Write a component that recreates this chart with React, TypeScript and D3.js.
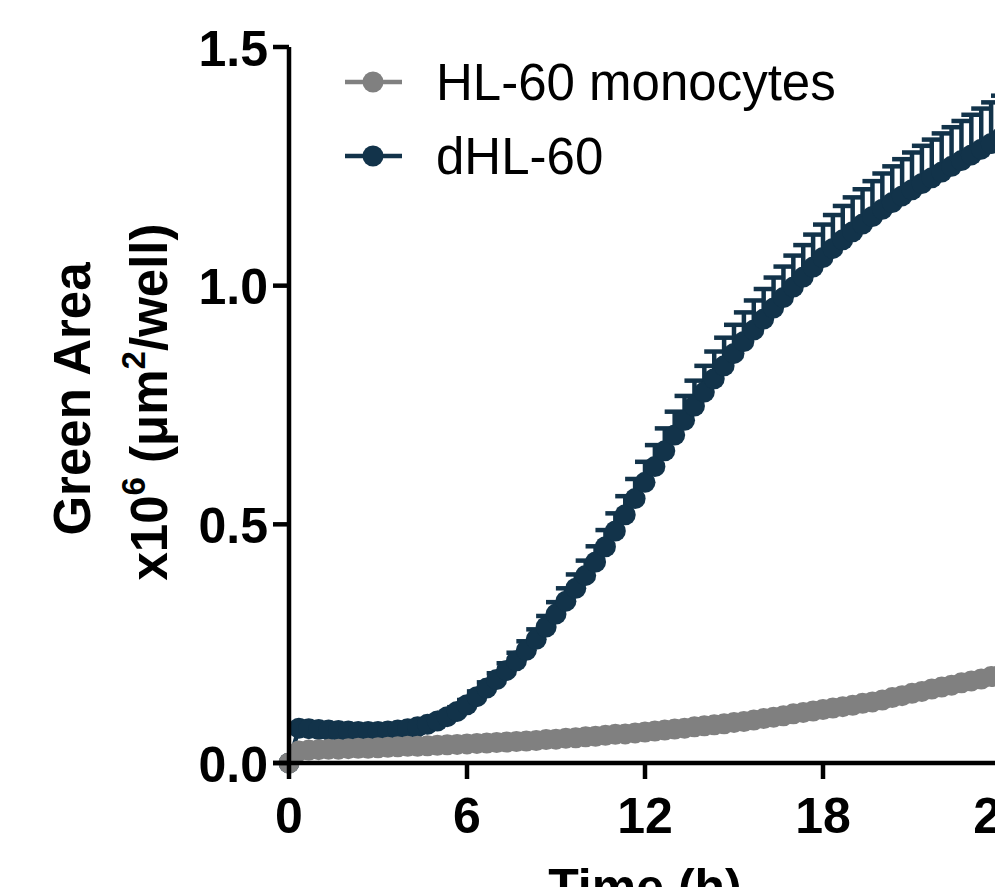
import React from "react";
import * as d3 from "d3";

// Scan times (minutes after start), one image every 20 min
const scanMinutes = [
  0, 20, 40, 60, 80, 100, 120, 140, 160, 180, 200, 220, 240, 260, 280, 300, 320, 340, 360, 380,
  400, 420, 440, 460, 480, 500, 520, 540, 560, 580, 600, 620, 640, 660, 680, 700, 720, 740, 760,
  780, 800, 820, 840, 860, 880, 900, 920, 940, 960, 980, 1000, 1020, 1040, 1060, 1080, 1100, 1120,
  1140, 1160, 1180, 1200, 1220, 1240, 1260, 1280, 1300, 1320, 1340, 1360, 1380, 1400, 1420, 1440,
];

// Green area x10^6 µm²/well
const hl60Monocytes = [
  0,
  0.025, 0.027, 0.028,
  0.029, 0.029, 0.030,
  0.031, 0.031, 0.032,
  0.033, 0.034, 0.035,
  0.035, 0.036, 0.037,
  0.038, 0.039, 0.040,
  0.041, 0.042, 0.043,
  0.044, 0.045, 0.046,
  0.047, 0.049, 0.050,
  0.052, 0.053, 0.055,
  0.056, 0.058, 0.060,
  0.061, 0.063, 0.065,
  0.067, 0.069, 0.071,
  0.073, 0.076, 0.078,
  0.080, 0.082, 0.085,
  0.087, 0.090, 0.093,
  0.096, 0.099, 0.103,
  0.106, 0.109, 0.112,
  0.115, 0.118, 0.121,
  0.125, 0.128, 0.132,
  0.137, 0.141, 0.146,
  0.150, 0.155, 0.159,
  0.163, 0.168, 0.172,
  0.176, 0.181, 0.185,
];

const dHL60 = [
  0,
  0.073, 0.072, 0.070,
  0.069, 0.068, 0.067,
  0.066, 0.066, 0.066,
  0.067, 0.069, 0.072,
  0.076, 0.081, 0.088,
  0.097, 0.108, 0.122,
  0.139, 0.157, 0.175,
  0.194, 0.214, 0.236,
  0.259, 0.285, 0.312,
  0.339, 0.366, 0.393,
  0.421, 0.453, 0.486,
  0.520, 0.554, 0.588,
  0.621, 0.654, 0.687,
  0.718, 0.748, 0.777,
  0.805, 0.832, 0.858,
  0.883, 0.907, 0.930,
  0.953, 0.975, 0.997,
  1.018, 1.039, 1.059,
  1.078, 1.096, 1.113,
  1.129, 1.145, 1.160,
  1.174, 1.188, 1.201,
  1.214, 1.226, 1.238,
  1.250, 1.262, 1.274,
  1.286, 1.298, 1.310,
];

// SEM for dHL-60 (upper bars only)
const dHL60Sem = [
  0,
  0.004, 0.004, 0.004,
  0.004, 0.004, 0.004,
  0.004, 0.004, 0.004,
  0.005, 0.005, 0.005,
  0.006, 0.006, 0.007,
  0.008, 0.009, 0.010,
  0.011, 0.012, 0.013,
  0.015, 0.017, 0.019,
  0.021, 0.023, 0.025,
  0.027, 0.029, 0.031,
  0.033, 0.035, 0.037,
  0.039, 0.041, 0.043,
  0.045, 0.047, 0.049,
  0.051, 0.053, 0.055,
  0.057, 0.059, 0.060,
  0.061, 0.062, 0.063,
  0.064, 0.065, 0.066,
  0.067, 0.068, 0.069,
  0.070, 0.071, 0.072,
  0.073, 0.074, 0.075,
  0.076, 0.077, 0.078,
  0.079, 0.080, 0.081,
  0.082, 0.083, 0.084,
  0.085, 0.086, 0.088,
];

const xTicks = [0, 6, 12, 18, 24];
const yTicks = [0, 0.5, 1.0, 1.5];
const seriesNames = ["HL-60 monocytes", "dHL-60"];
const seriesColors = ["#808080", "#12334a"];

const W = 995;
const H = 887;
const FONT = "'Liberation Sans', Arial, Helvetica, sans-serif";

export default function App() {
  const x = d3.scaleLinear().domain([0, 24]).range([289, 1001]);
  const y = d3.scaleLinear().domain([0, 1.5]).range([763, 47]);
  const hours = scanMinutes.map((m) => m / 60);

  const line = d3
    .line<number>()
    .x((_, i) => x(hours[i]))
    .y((v) => y(v));

  const r = 10.5;
  const axisW = 4.5;
  const tickLen = 16;
  const capHalf = 10;

  const [grayColor, darkColor] = seriesColors;

  return (
    <div style={{ position: "fixed", left: 0, top: 0, width: W, height: H, overflow: "hidden", background: "#fff" }}>
      <svg width={W} height={H} style={{ display: "block", fontFamily: FONT }}>
        <rect width={W} height={H} fill="#fff" />

        {/* dHL-60 error bars */}
        <g stroke={darkColor} strokeWidth={4.5} fill="none">
          {dHL60.map((v, i) => {
            const cx = x(hours[i]);
            const top = y(v + dHL60Sem[i]);
            return (
              <g key={i}>
                <line x1={cx} x2={cx} y1={y(v)} y2={top} />
                <line x1={cx - capHalf} x2={cx + capHalf} y1={top} y2={top} />
              </g>
            );
          })}
        </g>

        {/* dHL-60 line and markers */}
        <path d={line(dHL60) ?? ""} fill="none" stroke={darkColor} strokeWidth={4.5} />
        <g fill={darkColor}>
          {dHL60.map((v, i) => (
            <circle key={i} cx={x(hours[i])} cy={y(v)} r={r} />
          ))}
        </g>

        {/* HL-60 monocytes line and markers */}
        <path d={line(hl60Monocytes) ?? ""} fill="none" stroke={grayColor} strokeWidth={4.5} />
        <g fill={grayColor}>
          {hl60Monocytes.map((v, i) => (
            <circle key={i} cx={x(hours[i])} cy={y(v)} r={r} />
          ))}
        </g>

        {/* Axes */}
        <g stroke="#000" strokeWidth={axisW} fill="none">
          <line x1={x(0)} x2={x(0)} y1={y(1.5)} y2={y(0)} />
          <line x1={x(0) - tickLen} x2={x(24) + 10} y1={y(0)} y2={y(0)} />
          {yTicks.map((t) => (
            <line key={t} x1={x(0) - tickLen} x2={x(0)} y1={y(t)} y2={y(t)} />
          ))}
          {xTicks.map((t) => (
            <line key={t} x1={x(t)} x2={x(t)} y1={y(0)} y2={y(0) + tickLen} />
          ))}
        </g>

        {/* Tick labels */}
        <g fontSize={50} fontWeight="bold" fill="#000">
          {yTicks.map((t) => (
            <text key={t} x={x(0) - 21} y={y(t)} dy="0.37em" textAnchor="end">
              {d3.format(".1f")(t)}
            </text>
          ))}
          {xTicks.map((t) => (
            <text key={t} x={x(t)} y={833} textAnchor="middle">
              {t}
            </text>
          ))}
        </g>

        {/* Axis titles */}
        <text x={x(12)} y={904} textAnchor="middle" fontSize={50} fontWeight="bold">
          Time (h)
        </text>
        <g fontSize={51} fontWeight="bold">
          <text transform="translate(90,399) rotate(-90)" textAnchor="middle">
            Green Area
          </text>
          <text transform="translate(167,402) rotate(-90)" textAnchor="middle">
            x10
            <tspan fontSize={33} dy={-22}>6</tspan>
            <tspan dy={22}> (μm</tspan>
            <tspan fontSize={33} dy={-22}>2</tspan>
            <tspan dy={22}>/well)</tspan>
          </text>
        </g>

        {/* Legend */}
        {seriesNames.map((name, i) => {
          const ly = 82 + i * 74;
          return (
            <g key={name}>
              <line x1={345} x2={402} y1={ly} y2={ly} stroke={seriesColors[i]} strokeWidth={4.5} />
              <circle cx={373} cy={ly} r={r} fill={seriesColors[i]} />
              <text x={436} y={ly} dy="0.36em" fontSize={51} fill="#000">
                {name}
              </text>
            </g>
          );
        })}
      </svg>
    </div>
  );
}
